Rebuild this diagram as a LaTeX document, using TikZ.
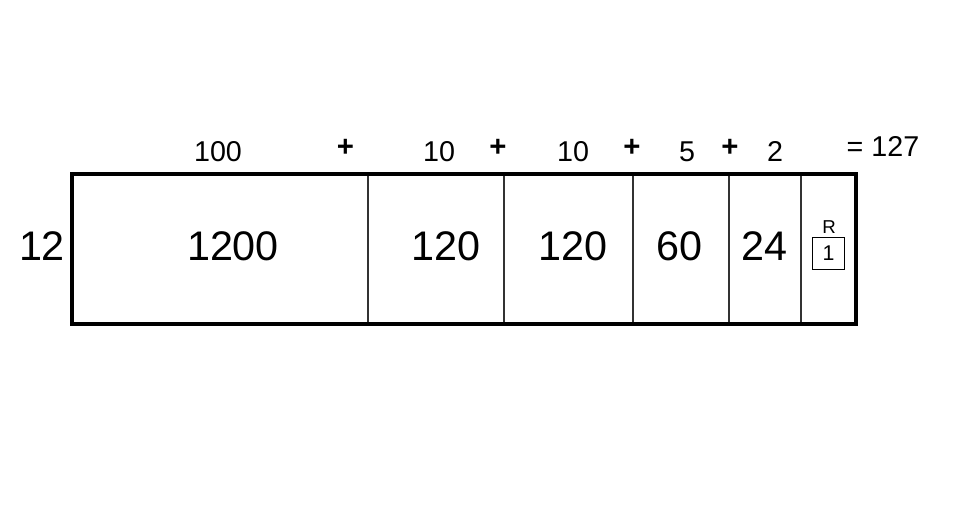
\documentclass[tikz,border=0pt]{standalone}
\usepackage{fontspec}
\setmainfont{Liberation Sans}
\begin{document}
\begin{tikzpicture}[x=0.75pt,y=-0.75pt,
  toplab/.style={inner sep=0pt,anchor=base,font=\fontsize{21.5}{24}\selectfont},
  plus/.style={inner sep=0pt,anchor=center,font=\fontsize{22}{24}\selectfont\bfseries},
  biglab/.style={inner sep=0pt,anchor=base,font=\fontsize{31}{36}\selectfont},
  divider/.style={line width=1.8pt,draw=black!80},
  outer/.style={line width=3pt,draw=black}]
\useasboundingbox (0,0) rectangle (960,504);
% outer rectangle
\coordinate (tl) at (72,173.5);
\coordinate (br) at (856,324);
% dividers
\foreach \x [count=\i] in {368,504,633,729,801}{
  \coordinate (d\i t) at (\x,173.5);
  \coordinate (d\i b) at (\x,324);
  \draw[divider] (d\i t) -- (d\i b);
}
\draw[outer] (tl) rectangle (br);
% top labels
\node[toplab] (l100) at (218,161) {100};
\node[plus] (p1) at (345.5,147.5) {+};
\node[toplab] (l10a) at (439,161) {10};
\node[plus] (p2) at (498,147.5) {+};
\node[toplab] (l10b) at (573,161) {10};
\node[plus] (p3) at (632,147.5) {+};
\node[toplab] (l5) at (687,161) {5};
\node[plus] (p4) at (730,147.5) {+};
\node[toplab] (l2) at (775,161) {2};
\node[toplab] (eq) at (883,156) {= 127};
% left label
\node[biglab] (l12) at (42,260.5) {12};
% cell labels
\node[biglab] (c1) at (233,260.5) {1200};
\node[biglab] (c2) at (446,260.5) {120};
\node[biglab] (c3) at (573,260.5) {120};
\node[biglab] (c4) at (679,260.5) {60};
\node[biglab] (c5) at (764,260.5) {24};
% remainder
\node[inner sep=0pt,anchor=base,font=\fontsize{14}{16}\selectfont] (rl) at (829,233) {R};
\node[draw,line width=0.75pt,minimum width=32*0.75pt,minimum height=32*0.75pt,inner sep=0pt,font=\fontsize{16}{18}\selectfont] (rbox) at (828.5,253) {1};
\end{tikzpicture}
\end{document}
